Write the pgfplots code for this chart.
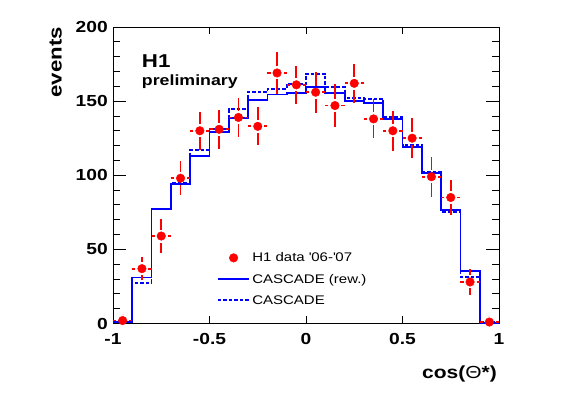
\documentclass[border=0pt]{standalone}
\usepackage{pgfplots}
\pgfplotsset{compat=1.18}
\usepackage{pgfplotstable}
\usepackage{fontspec}
\setmainfont{Liberation Sans}[FakeStretch=1.2]

\pgfplotsset{
  lineleg/.style={legend image code/.code={\draw[##1] (0bp,0bp) -- (31.6bp,0bp);}},
  markleg/.style={legend image code/.code={\path[draw=none,fill=none] (0bp,-1bp) rectangle (31.6bp,1bp);\draw[##1] plot coordinates {(15.8bp,0bp)};}},
}

\pgfplotstableread{
x y ey
-0.95 2 4.39
-0.85 37 7.6
-0.75 59 11.5
-0.65 98 11.5
-0.55 130 12.9
-0.45 131 13.3
-0.35 139 13.1
-0.25 133 12.7
-0.15 169 13.9
-0.05 161 12.9
0.05 156 13.8
0.15 147 14.3
0.25 162 13.3
0.35 138 13.1
0.45 130 13.6
0.55 125 13.3
0.65 99 13.5
0.75 85 11.8
0.85 28 8.8
0.95 1 4.39
}\datatab

\pgfplotstableread{
x y
-1.0 1
-0.9 31
-0.8 77
-0.7 94
-0.6 113
-0.5 129
-0.4 138.5
-0.3 151
-0.2 154.5
-0.1 155.5
0.0 159.7
0.1 155.3
0.2 150.3
0.3 148.5
0.4 137.7
0.5 119.3
0.6 101.7
0.7 76.6
0.8 35.6
0.9 0.5
1.0 0.5
}\rewtab

\pgfplotstableread{
x y
-1.0 1.5
-0.9 27.5
-0.8 77
-0.7 95
-0.6 116.8
-0.5 131.2
-0.4 144.5
-0.3 156
-0.2 158
-0.1 161.5
0.0 168.5
0.1 159.7
0.2 151.9
0.3 151.4
0.4 139.5
0.5 120.4
0.6 102.4
0.7 75.4
0.8 31.6
0.9 1
1.0 1
}\cascadetab

\begin{document}
\begin{tikzpicture}
\begin{axis}[
  scale only axis, width=386bp, height=296.5bp,
  xmin=-1, xmax=1, ymin=0, ymax=200,
  xtick={-1,-0.5,0,0.5,1}, xticklabels={{-1},{-0.5},{0},{0.5},{1}},
  ytick={0,50,100,150,200}, yticklabels={0,50,100,150,200},
  minor ytick={10,20,30,40,60,70,80,90,110,120,130,140,160,170,180,190},
  tick pos=both, tick align=inside,
  major tick length=12.7bp, minor tick length=6.7bp,
  xtick style={/pgfplots/major tick length=7.5bp},
  every tick/.style={black, line width=0.8bp},
  axis line style={line width=0.9bp},
  ticklabel style={font=\bfseries\fontsize{16bp}{18bp}\selectfont},
  xticklabel style={yshift=-6bp},
  yticklabel style={xshift=-1.7bp},
  xlabel={cos({\mdseries Θ}*)},
  ylabel={events},
  xlabel style={at={(rel axis cs:0.9948,-0.1848)}, anchor=base east, inner sep=0pt,
    font=\bfseries\fontsize{17.5bp}{20bp}\selectfont},
  ylabel style={at={(rel axis cs:-0.1321,1)}, anchor=south east, inner sep=0pt,
    font=\bfseries\fontsize{18.5bp}{20bp}\selectfont},
  legend style={at={(axis cs:-0.4627,49.3)}, anchor=north west, draw=none, fill=none,
    font=\fontsize{12.5bp}{14bp}\selectfont, row sep=6.8bp, inner sep=0pt},
  legend cell align=left,
  reverse legend,
]
\addplot[const plot, blue, line width=1.8bp, dash pattern=on 3.5bp off 2bp, lineleg]
  table[x=x,y=y]{\cascadetab};
\addlegendentry{CASCADE}
\addplot[const plot, blue, line width=1.8bp, lineleg]
  table[x=x,y=y]{\rewtab};
\addlegendentry{CASCADE (rew.)}
\addplot[only marks, mark=*, mark size=4.3bp, red, mark options={fill=red, draw=red, solid}, markleg,
  error bars/.cd, x dir=both, x fixed=0.05, y dir=both, y explicit, error mark=none,
  error bar style={red, line width=1.8bp, solid, shorten <=6.5bp}]
  table[x=x,y=y,y error=ey]{\datatab};
\addlegendentry{H1 data \textquotesingle06-\textquotesingle07}
\node[anchor=base west, inner sep=0pt, font=\bfseries\fontsize{18.6bp}{20bp}\selectfont] at (axis cs:-0.851,172.5) {H1};
\node[anchor=base west, inner sep=0pt, font=\bfseries\fontsize{14.8bp}{16bp}\selectfont] at (axis cs:-0.851,160.4) {preliminary};
\end{axis}
\path ([shift={(-113bp,-71.5bp)}]current axis.south west) rectangle ([shift={(68bp,27bp)}]current axis.north east);
\end{tikzpicture}
\end{document}
